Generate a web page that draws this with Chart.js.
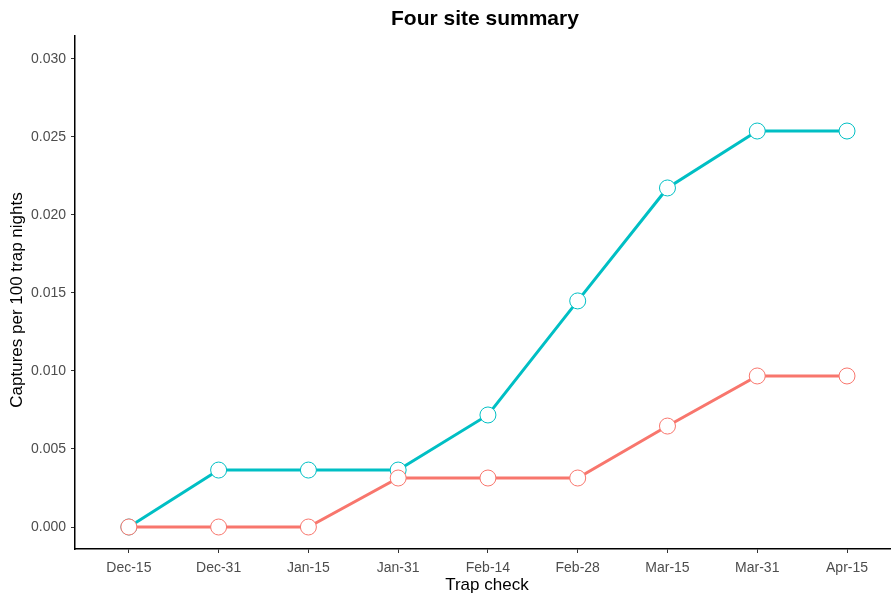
<!DOCTYPE html>
<html>
<head>
<meta charset="utf-8">
<script src="https://cdn.jsdelivr.net/npm/chart.js@4"></script>
<style>
  html, body { margin: 0; padding: 0; background: #fff; overflow: hidden; }
  #wrap { width: 891px; height: 597px; }
</style>
</head>
<body>
<div id="wrap"><canvas id="siteChart"></canvas></div>
<script>
// Datos del gráfico
const trapChecks = ["Dec-15", "Dec-31", "Jan-15", "Jan-31", "Feb-14", "Feb-28", "Mar-15", "Mar-31", "Apr-15"];
const seriesTeal = [0, 0.00365, 0.00365, 0.00365, 0.00718, 0.01449, 0.02173, 0.02538, 0.02538];
const seriesRed = [0, 0, 0, 0.00314, 0.00314, 0.00314, 0.00647, 0.00968, 0.00968];
const yTicks = [0, 0.005, 0.010, 0.015, 0.020, 0.025, 0.030];

const chartTitle = "Four site summary";
const xTitle = "Trap check";
const yTitle = "Captures per 100 trap nights";

const FONT = '"Liberation Sans", Arial, sans-serif';
const toPoints = arr => arr.map((v, i) => ({ x: i, y: v }));

// Títulos dibujados sobre el panel (centrados como en ggplot)
const titlePlugin = {
    id: 'panelTitles',
    afterDraw(chart) {
        const ctx = chart.ctx;
        const xs = chart.scales.x;
        const cx = xs.getPixelForValue((trapChecks.length - 1) / 2) - 3;
        ctx.save();
        ctx.textAlign = 'center';
        ctx.textBaseline = 'middle';
        ctx.fillStyle = '#000';
        ctx.font = 'bold 21px ' + FONT;
        ctx.fillText(chartTitle, cx, 19);
        ctx.font = '17px ' + FONT;
        ctx.fillText(xTitle, cx + 2, 585);
        ctx.translate(17, 300);
        ctx.rotate(-Math.PI / 2);
        ctx.fillText(yTitle, 0, 0);
        ctx.restore();
    }
};

const ctx = document.getElementById('siteChart').getContext('2d');
const siteChart = new Chart(ctx, {
    type: 'line',
    data: {
        datasets: [
            {
                label: 'B',
                data: toPoints(seriesRed),
                borderColor: '#F8766D',
                backgroundColor: '#FFFFFF',
                borderWidth: 3,
                pointRadius: 8,
                pointBorderWidth: 1,
                pointBackgroundColor: '#FFFFFF',
                pointBorderColor: '#F8766D',
                tension: 0
            },
            {
                label: 'A',
                data: toPoints(seriesTeal),
                borderColor: '#00BFC4',
                backgroundColor: '#FFFFFF',
                borderWidth: 3,
                pointRadius: 8,
                pointBorderWidth: 1,
                pointBackgroundColor: '#FFFFFF',
                pointBorderColor: '#00BFC4',
                tension: 0
            }
        ]
    },
    options: {
        responsive: true,
        maintainAspectRatio: false,
        animation: false,
        layout: { autoPadding: false, padding: { top: 36, right: 0, left: 0, bottom: 0 } },
        plugins: {
            legend: { display: false },
            tooltip: { enabled: false }
        },
        scales: {
            x: {
                type: 'linear',
                min: -0.6,
                max: 8.49,
                afterBuildTicks: scale => {
                    scale.ticks = trapChecks.map((_, i) => ({ value: i }));
                },
                afterFit: scale => { scale.height = 48; },
                ticks: {
                    callback: v => trapChecks[v],
                    color: '#4D4D4D',
                    font: { size: 14, family: FONT },
                    padding: 7,
                    maxRotation: 0,
                    autoSkip: false
                },
                grid: {
                    drawOnChartArea: false,
                    drawTicks: true,
                    tickLength: 4,
                    tickColor: '#333333'
                },
                border: { color: '#000000', width: 1.5 }
            },
            y: {
                min: -0.00141,
                max: 0.03147,
                afterBuildTicks: scale => {
                    scale.ticks = yTicks.map(v => ({ value: v }));
                },
                afterFit: scale => { scale.width = 75; },
                ticks: {
                    callback: v => v.toFixed(3),
                    color: '#4D4D4D',
                    font: { size: 14, family: FONT },
                    padding: 5
                },
                grid: {
                    drawOnChartArea: false,
                    drawTicks: true,
                    tickLength: 4,
                    tickColor: '#333333'
                },
                border: { color: '#000000', width: 1.5 }
            }
        }
    },
    plugins: [titlePlugin]
});
</script>
</body>
</html>
